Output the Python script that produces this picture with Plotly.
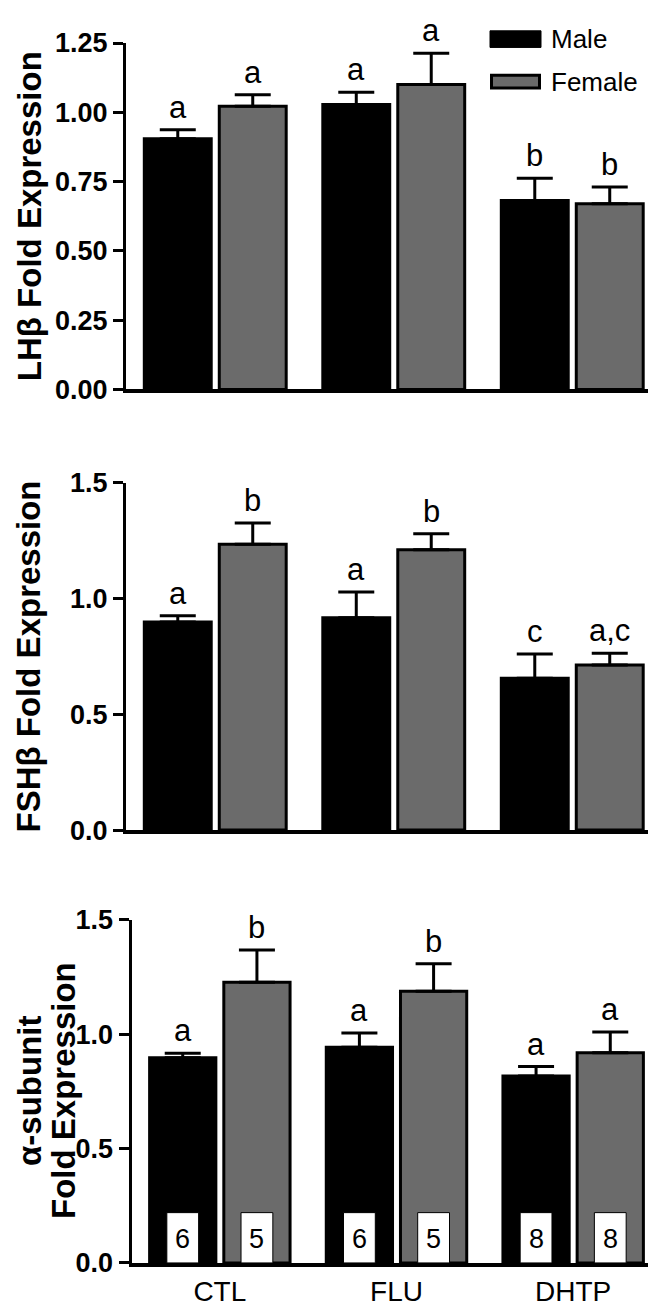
import plotly.graph_objects as go

# ---------------- data ----------------
groups = ["CTL", "FLU", "DHTP"]
sexes = ["Male", "Female"]

lh_male = [0.905, 1.028, 0.682]
lh_female = [1.022, 1.100, 0.670]
lh_male_err = [0.032, 0.044, 0.080]
lh_female_err = [0.041, 0.113, 0.060]
lh_male_sig = ["a", "a", "b"]
lh_female_sig = ["a", "a", "b"]

fsh_male = [0.899, 0.917, 0.656]
fsh_female = [1.235, 1.211, 0.713]
fsh_male_err = [0.027, 0.112, 0.105]
fsh_female_err = [0.092, 0.069, 0.051]
fsh_male_sig = ["a", "a", "c"]
fsh_female_sig = ["b", "b", "a,c"]

alpha_male = [0.897, 0.943, 0.818]
alpha_female = [1.228, 1.188, 0.919]
alpha_male_err = [0.020, 0.063, 0.041]
alpha_female_err = [0.141, 0.121, 0.091]
alpha_male_sig = ["a", "a", "a"]
alpha_female_sig = ["b", "b", "a"]

n_male = [6, 6, 8]
n_female = [5, 5, 8]

y_ticks_lh = [0, 0.25, 0.5, 0.75, 1.0, 1.25]
y_ticks_other = [0, 0.5, 1.0, 1.5]

# ---------------- layout helpers ----------------
W, H = 656, 1310
FONT = "Liberation Sans, Arial, sans-serif"
MALE_COLOR = "#000000"
FEMALE_COLOR = "#6b6b6b"


def pxx(p):
    return p / W


def pxy(p):
    return 1 - p / H


OFFSET = 0.21
BAR_W = 0.375

panels = [
    dict(male=lh_male, female=lh_female, merr=lh_male_err, ferr=lh_female_err,
         msig=lh_male_sig, fsig=lh_female_sig, ticks=y_ticks_lh, fmt=".2f",
         top=1.25, xdom=(118, 653.5), ydom=(375, 20.5)),
    dict(male=fsh_male, female=fsh_female, merr=fsh_male_err, ferr=fsh_female_err,
         msig=fsh_male_sig, fsig=fsh_female_sig, ticks=y_ticks_other, fmt=".1f",
         top=1.5, xdom=(118, 653.5), ydom=(826, 470.7)),
    dict(male=alpha_male, female=alpha_female, merr=alpha_male_err, ferr=alpha_female_err,
         msig=alpha_male_sig, fsig=alpha_female_sig, ticks=y_ticks_other, fmt=".1f",
         top=1.5, xdom=(123.5, 653.5), ydom=(1269, 918)),
]

fig = go.Figure()
annotations = []
idx = list(range(len(groups)))

for k, p in enumerate(panels, start=1):
    xa = "x" if k == 1 else f"x{k}"
    ya = "y" if k == 1 else f"y{k}"
    xm = [i - OFFSET for i in idx]
    xf = [i + OFFSET for i in idx]
    for xs, vals, errs, col, name in [(xm, p["male"], p["merr"], MALE_COLOR, sexes[0]),
                                      (xf, p["female"], p["ferr"], FEMALE_COLOR, sexes[1])]:
        fig.add_trace(go.Bar(
            x=xs, y=vals, width=BAR_W, name=name, showlegend=False,
            marker=dict(color=col, line=dict(color="black", width=3)),
            error_y=dict(type="data", symmetric=False, array=errs,
                         arrayminus=[0] * len(errs), color="black",
                         thickness=3, width=18),
            xaxis=xa, yaxis=ya, cliponaxis=False,
        ))
    for xs, vals, errs, sig in [(xm, p["male"], p["merr"], p["msig"]),
                                (xf, p["female"], p["ferr"], p["fsig"])]:
        for x, v, e, s in zip(xs, vals, errs, sig):
            annotations.append(dict(
                x=x, y=v + e, xref=xa, yref=ya, text=s, showarrow=False,
                yanchor="bottom", xanchor="center", yshift=3,
                font=dict(family=FONT, size=31, color="black")))

    x0, x1 = p["xdom"]
    yb, yt = p["ydom"]
    fig.layout[("xaxis" if k == 1 else f"xaxis{k}")] = dict(
        domain=[pxx(x0), pxx(x1)], range=[-0.5, 2.5], anchor=ya,
        showline=True, linecolor="black", linewidth=4, ticks="",
        showgrid=False, zeroline=False,
        tickvals=idx, ticktext=groups, showticklabels=(k == 3),
        tickfont=dict(family=FONT, size=28, color="black"),
    )
    fig.layout[("yaxis" if k == 1 else f"yaxis{k}")] = dict(
        domain=[pxy(yb), pxy(yt)], range=[0, p["top"]], anchor=xa,
        showline=True, linecolor="black", linewidth=3,
        ticks="outside", ticklen=10, tickwidth=3, tickcolor="black",
        tickvals=p["ticks"], tickformat=p["fmt"],
        showgrid=False, zeroline=False,
        tickfont=dict(family=FONT, size=27, color="black", weight="bold"),
    )

# sample-size boxes in panel 3
xm3 = [i - OFFSET for i in idx]
xf3 = [i + OFFSET for i in idx]
for xs, ns in [(xm3, n_male), (xf3, n_female)]:
    fig.add_trace(go.Bar(
        x=xs, y=[0.22] * len(ns), width=0.18, showlegend=False,
        marker=dict(color="white", line=dict(color="black", width=1)),
        xaxis="x3", yaxis="y3", hoverinfo="skip",
    ))
    for x, n in zip(xs, ns):
        annotations.append(dict(
            x=x, y=0.105, xref="x3", yref="y3", text=str(n), showarrow=False,
            xanchor="center", yanchor="middle",
            font=dict(family=FONT, size=27, color="black")))

# y-axis titles
title_font = dict(family=FONT, size=33, color="black", weight="bold")
annotations.append(dict(x=pxx(21), y=pxy((375 + 20.5) / 2), xref="paper", yref="paper",
                        text="LHβ Fold Expression", textangle=-90, showarrow=False,
                        xanchor="center", yanchor="middle", font=title_font))
annotations.append(dict(x=pxx(21), y=pxy((826 + 470.7) / 2), xref="paper", yref="paper",
                        text="FSHβ Fold Expression", textangle=-90, showarrow=False,
                        xanchor="center", yanchor="middle", font=title_font))
annotations.append(dict(x=pxx(22), y=pxy(1093), xref="paper", yref="paper",
                        text="α-subunit", textangle=-90, showarrow=False,
                        xanchor="center", yanchor="middle", font=title_font))
annotations.append(dict(x=pxx(56), y=pxy(1093), xref="paper", yref="paper",
                        text="Fold Expression", textangle=-90, showarrow=False,
                        xanchor="center", yanchor="middle", font=title_font))

# legend
shapes = [
    dict(type="rect", xref="paper", yref="paper", x0=pxx(482), x1=pxx(533),
         y0=pxy(25), y1=pxy(8), fillcolor=MALE_COLOR, line=dict(color="black", width=1)),
    dict(type="rect", xref="paper", yref="paper", x0=pxx(483.5), x1=pxx(531.5),
         y0=pxy(66.5), y1=pxy(53.5), fillcolor=FEMALE_COLOR, line=dict(color="black", width=3)),
]
leg_font = dict(family=FONT, size=26, color="black")
annotations.append(dict(x=pxx(541), y=pxy(16.5), xref="paper", yref="paper", text=sexes[0],
                        showarrow=False, xanchor="left", yanchor="middle", font=leg_font))
annotations.append(dict(x=pxx(541), y=pxy(60), xref="paper", yref="paper", text=sexes[1],
                        showarrow=False, xanchor="left", yanchor="middle", font=leg_font))

fig.update_layout(
    width=W, height=H, autosize=False,
    margin=dict(l=0, r=0, t=0, b=0),
    paper_bgcolor="white", plot_bgcolor="white",
    barmode="overlay", showlegend=False,
    annotations=annotations, shapes=shapes,
    font=dict(family=FONT, color="black"),
)

fig.write_html("out.html")
